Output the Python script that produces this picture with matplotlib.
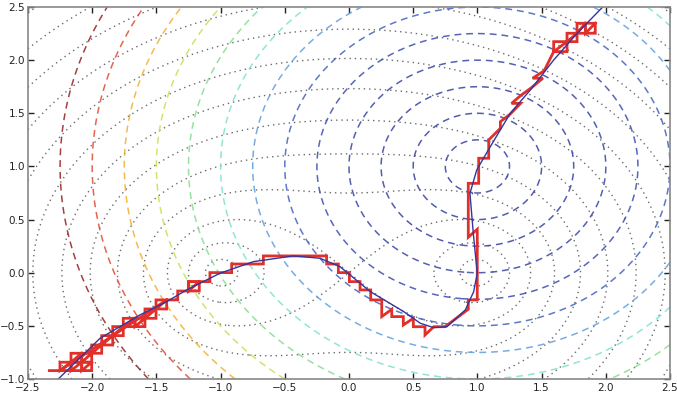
import numpy as np
import matplotlib
matplotlib.use("Agg")
import matplotlib.pyplot as plt

# ---------------- data ----------------
# dotted contours: level sets of sqrt(|z-a|*|z-b|) (two wells)
well_a = (-1.0, 0.0)
well_b = (1.0, 0.0)
dotted_levels = [0.5, 0.75, 1.0, 1.25, 1.5, 1.75, 2.0, 2.25, 2.5, 2.75, 3.0, 3.25, 3.5]

# dashed coloured contours: circles around one centre, colours
circle_centre = (1.0, 1.0)
dashed_radii = [0.25, 0.5, 0.75, 1.0, 1.25, 1.5, 1.75, 2.0, 2.25, 2.5, 2.75, 3.0, 3.25]
dashed_colors = ['#34409e', '#34409e', '#34409e', '#3644a4', '#3a4aae', '#4060c0',
                 '#5f9ede', '#7fe0d0', '#86dc8e', '#c6e052', '#f2ae2e', '#e04a30', '#92201e']

# blue continuous path
blue_x = [-2.264, -1.939, -1.628, -1.420, -1.264, -1.005, -0.745, -0.434, -0.226, -0.070,
          0.166, 0.426, 0.556, 0.660, 0.763, 0.906, 0.971, 0.999, 0.968, 0.942, 0.995,
          1.085, 1.256, 1.412, 1.594, 1.776, 1.976]
blue_y = [-1.0, -0.617, -0.397, -0.272, -0.162, -0.005, 0.104, 0.158, 0.136, 0.057,
          -0.178, -0.366, -0.476, -0.517, -0.508, -0.350, -0.178, -0.005, 0.371, 0.747, 0.967,
          1.155, 1.500, 1.719, 2.001, 2.252, 2.5]

# red discrete path (main polyline)
red_x = [-2.334, -2.251,
         -1.420, -1.334, -1.334, -1.251, -1.251, -1.166, -1.083, -1.083, -0.914, -0.914,
         -0.667, -0.667, -0.174, -0.174, -0.083, -0.083, 0.003, 0.003, 0.086, 0.086,
         0.169, 0.169, 0.255, 0.255, 0.333, 0.333, 0.423, 0.423, 0.501, 0.501, 0.592,
         0.592, 0.660, 0.748, 0.929, 0.929, 0.999, 0.999, 0.929, 0.929, 1.010, 1.010,
         1.088, 1.088, 1.179, 1.179, 1.256, 1.336, 1.266, 1.340, 1.420, 1.510, 1.430, 1.520,
         1.594]
red_y = [-0.921, -0.921,
         -0.256, -0.256, -0.172, -0.172, -0.084, -0.084, -0.084, 0.001, 0.001, 0.082,
         0.082, 0.158, 0.158, 0.082, 0.082, 0.001, 0.001, -0.084, -0.084, -0.162,
         -0.162, -0.256, -0.256, -0.413, -0.344, -0.413, -0.413, -0.492, -0.429, -0.508, -0.508,
         -0.586, -0.508, -0.508, -0.344, -0.256, -0.256, 0.409, 0.334, 0.841, 0.841, 1.077,
         1.077, 1.249, 1.359, 1.421, 1.493, 1.593, 1.593, 1.670, 1.740, 1.830, 1.830, 1.900,
         2.080]

# red "boxes with a diagonal": (x0, x1, y0, y1)
red_boxes = [(-2.251, -2.165, -0.921, -0.842), (-2.165, -2.082, -0.921, -0.842),
             (-2.082, -2.004, -0.921, -0.842), (-2.165, -2.082, -0.842, -0.758),
             (-2.082, -2.004, -0.842, -0.758), (-2.004, -1.926, -0.758, -0.680),
             (-1.926, -1.840, -0.680, -0.592), (-1.840, -1.758, -0.592, -0.507),
             (-1.758, -1.667, -0.507, -0.429), (-1.667, -1.589, -0.507, -0.429),
             (-1.589, -1.503, -0.429, -0.341), (-1.503, -1.420, -0.341, -0.256),
             (-1.251, -1.166, -0.172, -0.084),
             (1.594, 1.698, 2.080, 2.174), (1.698, 1.776, 2.174, 2.253),
             (1.776, 1.841, 2.253, 2.347), (1.841, 1.918, 2.253, 2.347)]

x_ticks = [-2.5, -2.0, -1.5, -1.0, -0.5, 0.0, 0.5, 1.0, 1.5, 2.0, 2.5]
y_ticks = [-1.0, -0.5, 0.0, 0.5, 1.0, 1.5, 2.0, 2.5]

# ---------------- drawing ----------------
plt.rcParams['lines.dotted_pattern'] = [1.0, 2.8]
plt.rcParams['lines.dashed_pattern'] = [4.5, 3.2]

fig = plt.figure(figsize=(6.77, 3.95), dpi=100)
ax = fig.add_axes([28 / 677, 1 - 379 / 395, (670 - 28) / 677, (379 - 7) / 395])

gx = np.linspace(-2.5, 2.5, 600)
gy = np.linspace(-1.0, 2.5, 450)
X, Y = np.meshgrid(gx, gy)

prod = np.hypot(X - well_a[0], Y - well_a[1]) * np.hypot(X - well_b[0], Y - well_b[1])
ax.contour(X, Y, prod, levels=[l ** 2 for l in dotted_levels], colors='#3a3a3a',
           linestyles='dotted', linewidths=1.0, alpha=0.75)

d2 = (X - circle_centre[0]) ** 2 + (Y - circle_centre[1]) ** 2
ax.contour(X, Y, d2, levels=[r ** 2 for r in dashed_radii], colors=dashed_colors,
           linestyles='dashed', linewidths=1.1, alpha=0.85)

red = '#e1302a'
for (x0, x1, y0, y1) in red_boxes:
    ax.plot([x0, x1, x1, x0, x0, x1], [y0, y0, y1, y1, y0, y1], color=red, lw=2.0,
            solid_joinstyle='miter')
ax.plot(red_x, red_y, color=red, lw=2.0, solid_joinstyle='miter')
ax.plot(blue_x, blue_y, color='#35359c', lw=1.0)

ax.set_xlim(-2.5, 2.5)
ax.set_ylim(-1.0, 2.5)
ax.set_xticks(x_ticks)
ax.set_yticks(y_ticks)
ax.set_xticklabels([f"{t:.1f}".replace('-', '\u2212') for t in x_ticks])
ax.set_yticklabels([f"{t:.1f}".replace('-', '\u2212') for t in y_ticks])
ax.tick_params(direction='in', length=4, width=1, top=True, right=True,
               labelsize=7.5, pad=2, colors='#222222')
ax.tick_params(axis='x', pad=3)
for s in ax.spines.values():
    s.set_color('#888888')
    s.set_linewidth(1.2)

fig.savefig('out.png', dpi=100)
